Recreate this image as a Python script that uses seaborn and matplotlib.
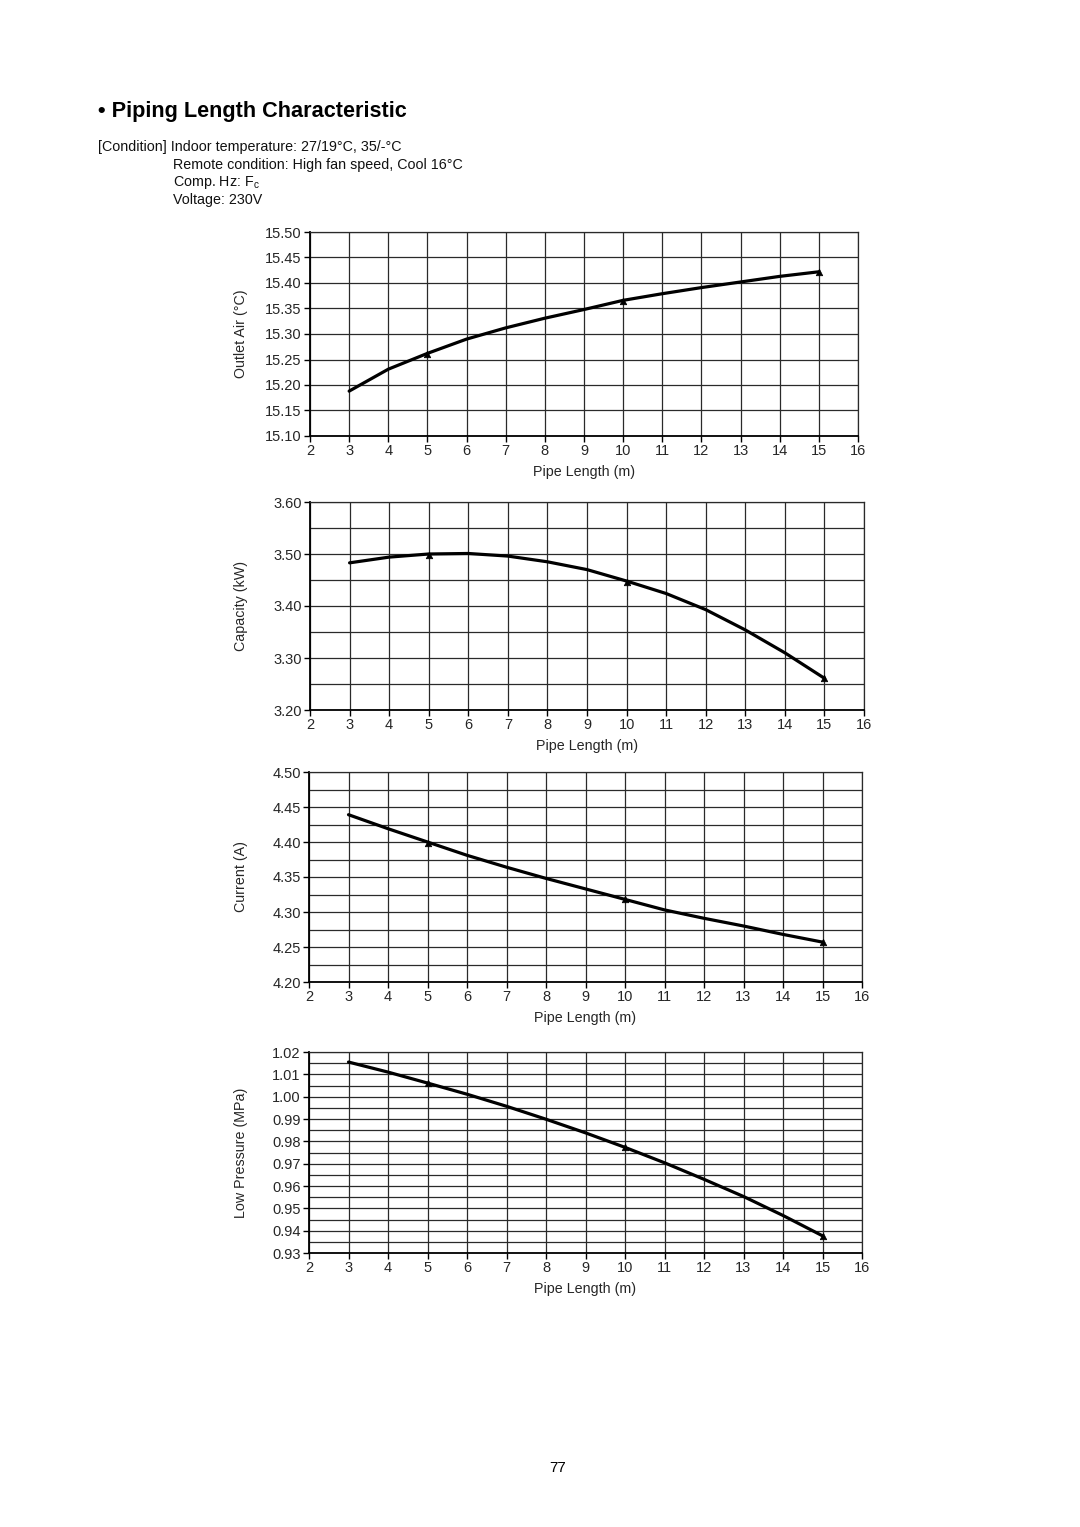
import matplotlib
matplotlib.use("Agg")
import matplotlib.pyplot as plt
from matplotlib.ticker import MultipleLocator, FormatStrFormatter
import seaborn as sns
import pandas as pd

# ---------------- data ----------------
pipe_length = [3, 4, 5, 6, 7, 8, 9, 10, 11, 12, 13, 14, 15]
marker_length = [5, 10, 15]

outlet_air = [15.188, 15.231, 15.262, 15.290, 15.312, 15.331, 15.348,
              15.366, 15.379, 15.391, 15.402, 15.413, 15.422]
outlet_air_pts = [15.260, 15.365, 15.421]

capacity = [3.483, 3.494, 3.500, 3.501, 3.496, 3.485, 3.470,
            3.448, 3.424, 3.393, 3.354, 3.310, 3.261]
capacity_pts = [3.499, 3.447, 3.261]

current = [4.439, 4.419, 4.400, 4.381, 4.364, 4.348, 4.333,
           4.318, 4.303, 4.291, 4.280, 4.268, 4.257]
current_pts = [4.399, 4.318, 4.257]

low_pressure = [1.0155, 1.0110, 1.0061, 1.0011, 0.9957, 0.9899, 0.9838,
                0.9773, 0.9704, 0.9630, 0.9553, 0.9468, 0.9377]
low_pressure_pts = [1.0061, 0.9773, 0.9377]

x_ticks = list(range(2, 17))

title = "\u2022 Piping Length Characteristic"
cond_lines = [
    ("[Condition] Indoor temperature: 27/19\u00b0C, 35/-\u00b0C", 98),
    ("Remote condition: High fan speed, Cool 16\u00b0C", 173),
    ("Comp. Hz: F$_{\\mathrm{c}}$", 173),
    ("Voltage: 230V", 173),
]
page_number = "77"

panels = [
    dict(y=outlet_air, pts=outlet_air_pts, label="Outlet Air (\u00b0C)",
         ylim=(15.10, 15.50), major=0.05, minor=None, fmt="%.2f",
         box=(310, 232, 858, 436)),
    dict(y=capacity, pts=capacity_pts, label="Capacity (kW)",
         ylim=(3.20, 3.60), major=0.10, minor=0.05, fmt="%.2f",
         box=(310, 502, 864, 710)),
    dict(y=current, pts=current_pts, label="Current (A)",
         ylim=(4.20, 4.50), major=0.05, minor=0.025, fmt="%.2f",
         box=(309, 772, 862, 982)),
    dict(y=low_pressure, pts=low_pressure_pts, label="Low Pressure (MPa)",
         ylim=(0.93, 1.02), major=0.01, minor=0.005, fmt="%.2f",
         box=(309, 1052, 862, 1253)),
]

# ---------------- style ----------------
sns.set_theme(style="white")
plt.rcParams["font.family"] = ["Liberation Sans", "DejaVu Sans"]
plt.rcParams["mathtext.fontset"] = "custom"
plt.rcParams["mathtext.rm"] = "Liberation Sans"
plt.rcParams["mathtext.it"] = "Liberation Sans"

W, H = 1080, 1527
fig = plt.figure(figsize=(W / 100, H / 100), dpi=100)
fig.patch.set_facecolor("white")

fig.text(98 / W, 1 - 112 / H, title, fontsize=15.6, fontweight="bold",
         va="center", ha="left", color="black")
for i, (txt, xpx) in enumerate(cond_lines):
    fig.text(xpx / W, 1 - (147 + i * 17.8) / H, txt, fontsize=10.3,
             va="center", ha="left", color="#111111")
fig.text(558 / W, 1 - 1468 / H, page_number, fontsize=11, ha="center",
         va="center", color="black")

grid_color = "#2a2a2a"

for p in panels:
    l, t, r, b = p["box"]
    ax = fig.add_axes([l / W, 1 - b / H, (r - l) / W, (b - t) / H])
    df = pd.DataFrame({"x": pipe_length, "y": p["y"]})
    dfm = pd.DataFrame({"x": marker_length, "y": p["pts"]})
    sns.lineplot(data=df, x="x", y="y", ax=ax, color="black", lw=2.3,
                 zorder=5, solid_joinstyle="round", solid_capstyle="round")
    sns.scatterplot(data=dfm, x="x", y="y", ax=ax, color="black",
                    marker="^", s=22, edgecolor="black", linewidth=0.5,
                    zorder=6)
    ax.set_xlim(2, 16)
    ax.set_ylim(*p["ylim"])
    ax.set_xticks(x_ticks)
    ax.yaxis.set_major_locator(MultipleLocator(p["major"]))
    ax.yaxis.set_major_formatter(FormatStrFormatter(p["fmt"]))
    if p["minor"]:
        ax.yaxis.set_minor_locator(MultipleLocator(p["minor"]))
        ax.grid(True, which="minor", axis="y", color=grid_color, lw=0.9)
    ax.grid(True, which="major", axis="both", color=grid_color, lw=0.9)
    ax.set_axisbelow(True)
    ax.tick_params(axis="both", which="major", direction="out", length=4,
                   width=1, color="black", labelsize=10.5, pad=2,
                   left=True, bottom=True)
    ax.tick_params(axis="y", which="minor", length=0)
    for side in ["top", "right"]:
        ax.spines[side].set_color(grid_color)
        ax.spines[side].set_linewidth(0.9)
    for side in ["left", "bottom"]:
        ax.spines[side].set_color("black")
        ax.spines[side].set_linewidth(1.3)
    ax.set_xlabel("Pipe Length (m)", fontsize=10.3, labelpad=5)
    ax.set_ylabel(p["label"], fontsize=10.3)
    ax.yaxis.set_label_coords(-(l - 248) / (r - l), 0.5)
    ax.set_facecolor("white")

fig.savefig("out.png", dpi=100, facecolor="white")
